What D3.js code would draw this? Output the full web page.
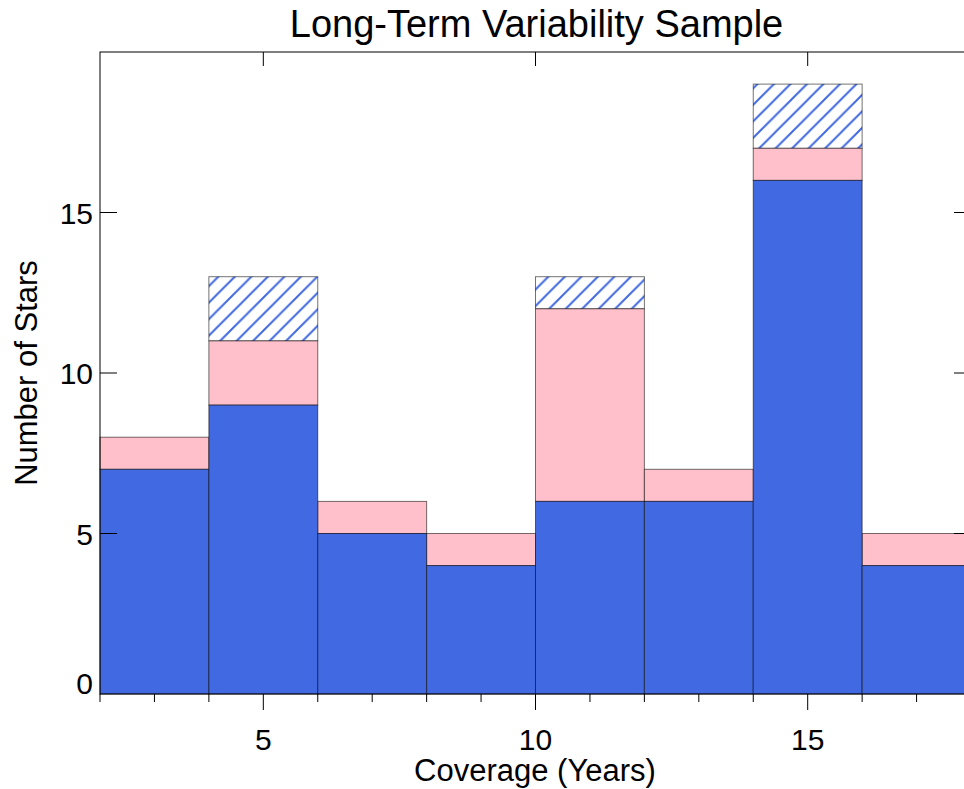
<!DOCTYPE html>
<html>
<head>
<meta charset="utf-8">
<script src="https://cdn.jsdelivr.net/npm/d3@7"></script>
<style>
  html, body { margin: 0; padding: 0; background: #fff; }
  svg { display: block; font-family: "Liberation Sans", Arial, sans-serif; }
</style>
</head>
<body>
<svg id="chart" width="964" height="789"></svg>
<script>
// ---- data ----
const binStarts = [2, 4, 6, 8, 10, 12, 14, 16];
const binWidth = 2;
const blueCounts = [7, 9, 5, 4, 6, 6, 16, 4];
const pinkTotals = [8, 11, 6, 5, 12, 7, 17, 5];
const hatchTotals = [null, 13, null, null, 13, null, 19, null];
const xMajorTicks = [5, 10, 15];
const xMinorTicks = [2, 3, 4, 6, 7, 8, 9, 11, 12, 13, 14, 16, 17];
const yTicks = [0, 5, 10, 15];
const titleText = "Long-Term Variability Sample";
const xLabelText = "Coverage (Years)";
const yLabelText = "Number of Stars";

// ---- layout ----
const svg = d3.select("#chart");
const pL = 100, pR = 971, pT = 52, pB = 694;
const x = d3.scaleLinear().domain([2, 18]).range([pL, pR]);
const y = d3.scaleLinear().domain([0, 20]).range([pB, pT]);

const blue = "#4169E1", pink = "#FFC0CB";

// hatch pattern
const defs = svg.append("defs");
const pat = defs.append("pattern")
  .attr("id", "hatch")
  .attr("patternUnits", "userSpaceOnUse")
  .attr("width", 16.5).attr("height", 16.5);
pat.append("rect").attr("width", 16.5).attr("height", 16.5).attr("fill", "#fff");
pat.append("path")
  .attr("d", "M-2,18.5 L18.5,-2 M-2,2 L2,-2 M14.5,18.5 L18.5,14.5")
  .attr("stroke", blue).attr("stroke-width", 2).attr("fill", "none");

const bars = binStarts.map((s, i) => ({ s, b: blueCounts[i], p: pinkTotals[i], h: hatchTotals[i] }));

const g = svg.append("g");
function applyEdge(sel) {
  return sel.attr("stroke", "#000").attr("stroke-opacity", 0.55).attr("stroke-width", 1);
}

// hatched segments
applyEdge(g.selectAll("rect.hatch").data(bars.filter(d => d.h != null)).join("rect")
  .attr("class", "hatch")
  .attr("x", d => x(d.s)).attr("width", d => x(d.s + binWidth) - x(d.s))
  .attr("y", d => y(d.h)).attr("height", d => y(d.p) - y(d.h))
  .attr("fill", "url(#hatch)"));

// pink segments
applyEdge(g.selectAll("rect.pink").data(bars).join("rect")
  .attr("class", "pink")
  .attr("x", d => x(d.s)).attr("width", d => x(d.s + binWidth) - x(d.s))
  .attr("y", d => y(d.p)).attr("height", d => y(d.b) - y(d.p))
  .attr("fill", pink));

// blue segments
applyEdge(g.selectAll("rect.blue").data(bars).join("rect")
  .attr("class", "blue")
  .attr("x", d => x(d.s)).attr("width", d => x(d.s + binWidth) - x(d.s))
  .attr("y", d => y(d.b)).attr("height", d => y(0) - y(d.b))
  .attr("fill", blue));

// ---- frame & ticks ----
const ax = svg.append("g").attr("stroke", "#000").attr("stroke-width", 1).attr("fill", "none");
ax.append("rect").attr("x", pL).attr("y", pT).attr("width", pR - pL).attr("height", pB - pT);

xMinorTicks.forEach(t => ax.append("line").attr("x1", x(t)).attr("x2", x(t)).attr("y1", pB).attr("y2", pB + 8));
xMajorTicks.forEach(t => ax.append("line").attr("x1", x(t)).attr("x2", x(t)).attr("y1", pB).attr("y2", pB + 16));
xMajorTicks.forEach(t => ax.append("line").attr("x1", x(t)).attr("x2", x(t)).attr("y1", pT).attr("y2", pT + 14));
yTicks.filter(t => t > 0).forEach(t => {
  ax.append("line").attr("x1", pL).attr("x2", pL + 17).attr("y1", y(t)).attr("y2", y(t));
  ax.append("line").attr("x1", pR).attr("x2", pR - 17).attr("y1", y(t)).attr("y2", y(t));
});

// tick labels
const lab = svg.append("g").attr("fill", "#000");
xMajorTicks.forEach(t => lab.append("text")
  .attr("x", x(t)).attr("y", 750).attr("text-anchor", "middle")
  .attr("font-size", 30).text(t));
yTicks.forEach(t => lab.append("text")
  .attr("x", 93).attr("y", t === 0 ? pB : y(t) + 11).attr("text-anchor", "end")
  .attr("font-size", 30).text(t));

// titles
svg.append("text").attr("x", (pL + pR) / 2 + 1).attr("y", 37).attr("text-anchor", "middle")
  .attr("font-size", 38).text(titleText);
svg.append("text").attr("x", 535).attr("y", 781).attr("text-anchor", "middle")
  .attr("font-size", 31).text(xLabelText);
svg.append("text").attr("transform", `translate(37, ${(pT + pB) / 2}) rotate(-90)`)
  .attr("text-anchor", "middle").attr("font-size", 31).text(yLabelText);
</script>
</body>
</html>
